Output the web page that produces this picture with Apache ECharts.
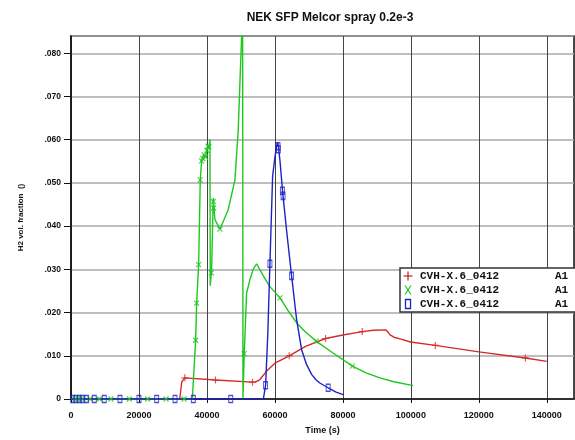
<!DOCTYPE html>
<html><head><meta charset="utf-8">
<script src="https://cdn.jsdelivr.net/npm/echarts@6/dist/echarts.min.js"></script>
<style>html,body{margin:0;padding:0;background:#fff}#c{width:575px;height:440px}</style>
</head><body><div id="c"></div>
<script>
const chartTitle = 'NEK SFP Melcor spray 0.2e-3';
const xName = 'Time (s)';
const yName = 'H2 vol. fraction  ()';
const seriesNames = ['CVH-X.6_0412', 'CVH-X.6_0412', 'CVH-X.6_0412'];
const seriesTag = 'A1';
const xTickLabels = ['0', '20000', '40000', '60000', '80000', '100000', '120000', '140000'];
const yTickLabels = ['0', '.010', '.020', '.030', '.040', '.050', '.060', '.070', '.080'];

// red (+)
const redT = [0, 32000, 32600, 33500, 42500, 53400, 54200, 55600, 57500, 60000, 64200, 69000, 74900, 80000, 85700, 89000, 92600, 93300, 93800, 95000, 96800, 99900, 107200, 120000, 133700, 140000];
const redV = [0, 0, 0.0040, 0.0049, 0.0044, 0.0039, 0.0039, 0.0045, 0.0064, 0.0083, 0.0100, 0.0122, 0.0140, 0.0148, 0.0156, 0.0159, 0.0160, 0.0155, 0.0149, 0.0143, 0.0139, 0.0132, 0.0124, 0.0109, 0.0095, 0.0087];
const redMarkT = [33500, 42500, 53400, 64200, 74900, 85700, 107200, 133700];
const redMarkV = [0.0049, 0.0044, 0.0039, 0.0100, 0.0140, 0.0156, 0.0124, 0.0095];

// green (x)
const greenT = [0, 35700, 36670, 36970, 37560, 38030, 38440, 39000, 39600, 40000, 40590, 40880, 40970, 41380, 41850, 42350, 43820, 46260, 48230, 49200, 49910, 50500, 50600, 50970, 51670, 52640, 53600, 54600, 56600, 58500, 61500, 64000, 66400, 69000, 72100, 77000, 82800, 87000, 90900, 95000, 100700];
const greenV = [0, 0, 0.0136, 0.0222, 0.0311, 0.0507, 0.0551, 0.0565, 0.0560, 0.0578, 0.0584, 0.0601, 0.0262, 0.0299, 0.0465, 0.0415, 0.0393, 0.0438, 0.0507, 0.0622, 0.0777, 0.0900, 0, 0.0105, 0.0245, 0.0276, 0.0300, 0.0313, 0.0285, 0.0260, 0.0234, 0.0203, 0.0176, 0.0155, 0.0134, 0.0107, 0.0076, 0.0060, 0.0049, 0.0040, 0.0031];
const greenMarkT = [1180, 2150, 3150, 5590, 8330, 11760, 17170, 22550, 27960, 33260, 36670, 36970, 37560, 38030, 38440, 38800, 39200, 39600, 40000, 40300, 40590, 41300, 41850, 41950, 43820, 50970, 61500, 72100, 82800];
const greenMarkV = [0, 0, 0, 0, 0, 0, 0, 0, 0, 0, 0.0136, 0.0222, 0.0311, 0.0507, 0.0551, 0.0556, 0.0565, 0.0560, 0.0575, 0.0585, 0.0584, 0.0292, 0.0457, 0.0442, 0.0393, 0.0105, 0.0234, 0.0134, 0.0076];

// blue (square)
const blueT = [0, 56600, 57260, 57900, 58530, 59320, 60000, 60500, 60790, 61000, 61470, 62260, 63500, 64910, 66380, 67850, 69300, 70790, 72000, 73200, 75670, 78000, 80080];
const blueV = [0, 0, 0.0032, 0.0150, 0.0313, 0.0515, 0.0560, 0.0585, 0.0593, 0.0585, 0.0553, 0.0480, 0.0385, 0.0285, 0.0184, 0.0114, 0.0080, 0.0057, 0.0045, 0.0037, 0.0026, 0.0016, 0.0010];
const blueMarkT = [500, 1470, 2440, 3440, 4610, 6850, 9790, 14400, 20000, 25200, 30600, 36000, 47000, 57260, 58530, 60900, 61000, 62200, 62400, 64910, 75670];
const blueMarkV = [0, 0, 0, 0, 0, 0, 0, 0, 0, 0, 0, 0, 0, 0.0032, 0.0313, 0.0585, 0.0578, 0.0482, 0.0470, 0.0285, 0.0026];

const colors = ['#d42a2a', '#1ec81e', '#1c22c4'];
const zip = (a, b) => a.map((t, i) => [t, b[i]]);

const plusPath = 'path://M0,5L10,5M5,0L5,10';
const crossPath = 'path://M0,0L10,10M10,0L0,10';

function lineSeries(name, t, v, color) {
  return { name, type: 'line', data: zip(t, v), showSymbol: false, symbol: 'none',
    lineStyle: { color, width: 1.4 }, clip: true, z: 3 };
}
function markSeries(name, t, v, color, symbol, size) {
  return { name, type: 'scatter', data: zip(t, v), symbol, symbolSize: size,
    itemStyle: { color: 'rgba(0,0,0,0)', borderColor: color, borderWidth: 1.2 }, z: 4, clip: true };
}

const sansFont = '"Liberation Sans", Arial, sans-serif';
const monoFont = '"Liberation Mono", "DejaVu Sans Mono", monospace';
const legendRows = [0, 1, 2];
const legendGraphics = [
  { type: 'rect', shape: { x: 400, y: 268, width: 180, height: 44 },
    style: { fill: '#fff', stroke: '#333', lineWidth: 1.5 }, z: 100 }
];
legendRows.forEach(i => {
  const cy = 276 + i * 14;
  legendGraphics.push({ type: 'text', style: { text: seriesNames[i], x: 420, y: cy, fill: '#111',
    font: 'bold 11px ' + monoFont, verticalAlign: 'middle' }, z: 101 });
  legendGraphics.push({ type: 'text', style: { text: seriesTag, x: 555, y: cy, fill: '#111',
    font: 'bold 11px ' + monoFont, verticalAlign: 'middle' }, z: 101 });
});
legendGraphics.push(
  { type: 'line', shape: { x1: 403.5, y1: 276, x2: 412.5, y2: 276 }, style: { stroke: colors[0], lineWidth: 1.3 }, z: 101 },
  { type: 'line', shape: { x1: 408, y1: 271.5, x2: 408, y2: 280.5 }, style: { stroke: colors[0], lineWidth: 1.3 }, z: 101 },
  { type: 'line', shape: { x1: 405, y1: 285.5, x2: 411, y2: 294.5 }, style: { stroke: colors[1], lineWidth: 1.2 }, z: 101 },
  { type: 'line', shape: { x1: 411, y1: 285.5, x2: 405, y2: 294.5 }, style: { stroke: colors[1], lineWidth: 1.2 }, z: 101 },
  { type: 'rect', shape: { x: 405.5, y: 299.5, width: 5, height: 9 }, style: { fill: 'none', stroke: colors[2], lineWidth: 1.3 }, z: 101 }
);

const chart = echarts.init(document.getElementById('c'), null, { renderer: 'canvas' });
chart.setOption({
  animation: false,
  backgroundColor: '#fff',
  title: { text: chartTitle, left: 325, top: 7, textAlign: 'center',
    textStyle: { fontFamily: sansFont, fontSize: 12, fontWeight: 'bold', color: '#111' } },
  grid: { left: 71, right: 1, top: 36, bottom: 40, show: true, borderColor: '#111', borderWidth: 1.5, backgroundColor: 'transparent' },
  xAxis: {
    type: 'value', min: 0, max: 148000, interval: 20000,
    name: xName, nameLocation: 'middle', nameGap: 27,
    nameTextStyle: { fontFamily: sansFont, fontSize: 9, fontWeight: 'bold', color: '#111' },
    axisLine: { lineStyle: { color: '#111', width: 1.5 } },
    axisTick: { show: true, length: 4, lineStyle: { color: '#111' } },
    axisLabel: { showMaxLabel: false, margin: 12, color: '#111', fontFamily: sansFont, fontSize: 9, fontWeight: 'bold',
      formatter: v => { const i = Math.round(v / 20000); return xTickLabels[i] !== undefined && v % 20000 === 0 ? xTickLabels[i] : ''; } },
    splitLine: { show: true, lineStyle: { color: '#444', width: 1 } }
  },
  yAxis: {
    type: 'value', min: 0, max: 0.084, interval: 0.01,
    name: yName, nameLocation: 'middle', nameGap: 46, nameRotate: 90,
    nameTextStyle: { fontFamily: sansFont, fontSize: 8, fontWeight: 'bold', color: '#111' },
    axisLine: { lineStyle: { color: '#111', width: 1.5 } },
    axisTick: { show: true, length: 7, lineStyle: { color: '#111' } },
    axisLabel: { showMaxLabel: false, margin: 10, color: '#111', fontFamily: sansFont, fontSize: 8.5, fontWeight: 'bold',
      formatter: v => { const i = Math.round(v / 0.01); return yTickLabels[i] !== undefined ? yTickLabels[i] : ''; } },
    splitLine: { show: true, lineStyle: { color: '#a8a8a8', width: 1.6 } }
  },
  graphic: legendGraphics,
  series: [
    lineSeries(seriesNames[0], redT, redV, colors[0]),
    lineSeries(seriesNames[1], greenT, greenV, colors[1]),
    lineSeries(seriesNames[2], blueT, blueV, colors[2]),
    markSeries(seriesNames[0], redMarkT, redMarkV, colors[0], plusPath, 7),
    markSeries(seriesNames[1], greenMarkT, greenMarkV, colors[1], crossPath, 5),
    markSeries(seriesNames[2], blueMarkT, blueMarkV, colors[2], 'rect', [4, 7])
  ]
});
</script>
</body></html>
